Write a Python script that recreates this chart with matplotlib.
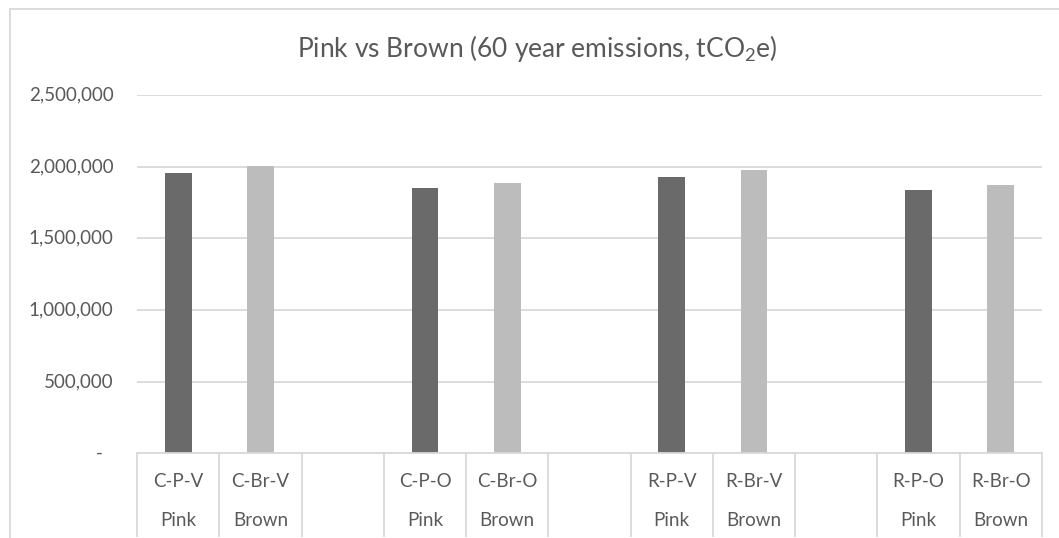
import numpy as np
import matplotlib
matplotlib.use("Agg")
import matplotlib.pyplot as plt
from matplotlib.patches import Rectangle
from matplotlib.ticker import FixedLocator, NullFormatter

plt.rcParams["font.family"] = ["Lato", "DejaVu Sans"]
plt.rcParams["mathtext.default"] = "regular"

# Two-level category axis: scenario code on top, material below; blanks are spacers
scenario_labels = ["C-P-V", "C-Br-V", "", "C-P-O", "C-Br-O", "",
                   "R-P-V", "R-Br-V", "", "R-P-O", "R-Br-O"]
material_labels = ["Pink", "Brown", "", "Pink", "Brown", "",
                   "Pink", "Brown", "", "Pink", "Brown"]

# 60-year emissions (tCO2e) per scenario
pink_values = [1958000, 1853000, 1926000, 1835000]
brown_values = [2003000, 1885000, 1979000, 1872000]

y_ticks = [0, 500000, 1000000, 1500000, 2000000, 2500000]

pink_color = "#6a6a6a"
brown_color = "#bcbcbc"
text_color = "#595959"
line_color = "#d9d9d9"

W, H = 1059, 538
fig = plt.figure(figsize=(W / 100, H / 100), dpi=100)

# chart frame
fig.add_artist(Rectangle((10 / W, -0.1), 1.2, 1 - 9 / H + 0.1,
                         transform=fig.transFigure, fill=False,
                         edgecolor=line_color, linewidth=1.3))

ax_l, ax_r = 137 / W, 1042 / W
ax_b, ax_t = (H - 453.3) / H, (H - 95) / H
ax = fig.add_axes([ax_l, ax_b, ax_r - ax_l, ax_t - ax_b])

n = len(scenario_labels)
x = np.arange(n)

# map values onto category slots
pink_slots = [i for i, m in enumerate(material_labels) if m == "Pink"]
brown_slots = [i for i, m in enumerate(material_labels) if m == "Brown"]

bar_w = 0.325
ax.bar(pink_slots, pink_values, width=bar_w, color=pink_color, zorder=3)
ax.bar(brown_slots, brown_values, width=bar_w, color=brown_color, zorder=3)

ax.set_xlim(-0.5, n - 0.5)
ax.set_ylim(0, 2500000)

ax.yaxis.set_major_locator(FixedLocator(y_ticks))
ax.yaxis.set_major_formatter(NullFormatter())
ax.grid(axis="y", color=line_color, linewidth=1.3, zorder=0)
ax.tick_params(axis="y", length=0)
ax.set_xticks([])

for side in ["top", "right", "left"]:
    ax.spines[side].set_visible(False)
ax.spines["bottom"].set_color(line_color)
ax.spines["bottom"].set_linewidth(1.3)
ax.spines["bottom"].set_zorder(4)

# y tick labels (accounting style: zero shown as a dash)
ytrans = ax.get_yaxis_transform()
for v in y_ticks:
    if v == 0:
        ax.text(-0.038, v, "-", transform=ytrans, ha="right", va="center",
                fontsize=13.5, color=text_color)
    else:
        ax.text(-0.026, v, f"{v:,.0f}", transform=ytrans, ha="right",
                va="center", fontsize=13.5, color=text_color)

# category separators and labels
xtrans = ax.get_xaxis_transform()
sep_bottom = -(536 - 453.3) / (453.3 - 95)
for b in np.arange(n + 1) - 0.5:
    ax.plot([b, b], [0, sep_bottom], transform=xtrans, color=line_color,
            linewidth=1.3, clip_on=False, zorder=2)

row1 = -(481.7 - 453.3) / (453.3 - 95)
row2 = -(520 - 453.3) / (453.3 - 95)
for i in range(n):
    if scenario_labels[i]:
        ax.text(x[i], row1, scenario_labels[i], transform=xtrans,
                ha="center", va="center", fontsize=13.5, color=text_color)
    if material_labels[i]:
        ax.text(x[i], row2, material_labels[i], transform=xtrans,
                ha="center", va="center", fontsize=13.5, color=text_color)

fig.text(537 / W, 1 - 57.3 / H, r"Pink vs Brown (60 year emissions, tCO$_2$e)",
         ha="center", va="baseline", fontsize=19, color=text_color)

fig.savefig("out.png", dpi=100)
